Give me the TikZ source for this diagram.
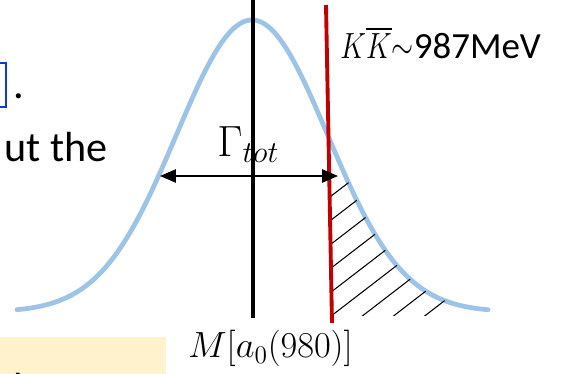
\documentclass[tikz,border=0pt]{standalone}
\usepackage[no-math]{fontspec}
\setmainfont{Carlito}
\usepackage{amsmath}
\usetikzlibrary{arrows.meta, calc}
\definecolor{gblue}{HTML}{9DC3E6}
\definecolor{thrred}{HTML}{C00000}
\definecolor{linkblue}{HTML}{1238D6}
\definecolor{notebg}{HTML}{FFF2CC}
\tikzset{
  % --- Duong cong va vach --------------------------------------
  gauss/.style={draw=gblue, line width=2.7pt, line cap=round},
  massline/.style={draw=black, line width=2.3pt},
  thrline/.style={draw=thrred, line width=2.2pt},
  warr/.style={{Triangle[length=9pt,width=7.5pt]}-{Triangle[length=9pt,width=7.5pt]},
    line width=0.9pt},
  hatch/.style={line width=0.6pt},
  % --- Chu -----------------------------------------------------
  slidetxt/.style={inner sep=0pt, anchor=base west,
    font=\fontsize{24}{28}\selectfont},
  lbl/.style={inner sep=0pt, anchor=base west,
    font=\fontsize{21}{25}\selectfont},
  notebox/.style={fill=notebg, draw=none}
}

\begin{document}
\begin{tikzpicture}[x=0.02cm, y=-0.02cm,
    declare function={bw(\t)=312-292*exp(-0.5*((\t-252)/75.6)^2);}]

  \useasboundingbox (0,0) rectangle (562,374);
  \clip (0,0) rectangle (562,374);

  % ---------- Manh chu cua slide ----------
  \draw[linkblue, line width=1.1pt] (-2,63) -- (6,63) -- (6,107) -- (-2,107);
  \node[slidetxt] (dot) at (13,99) {.};
  \node[slidetxt, anchor=base east] (txt) at (108,162) {ut the};
  \node[notebox, minimum width=166*0.02cm, minimum height=40*0.02cm,
        anchor=north west, inner sep=0pt] (note) at (0,337) {};
  \node[slidetxt] (notetxt) at (-1,403) {the sum};

  % ---------- Phan bo khoi luong ----------
  \draw[gauss] plot[domain=17:488, samples=140, smooth] (\x, {bw(\x)});

  % ---------- Vung gach cheo ----------
  \coordinate (hA) at (329.3,178);
  \coordinate (hB) at (332,316);
  \coordinate (hC) at (470,316);
  \begin{scope}
    \clip (hA) -- (hB) -- (hC) -- plot[domain=470:347, samples=60] (\x, {bw(\x)}) -- cycle;
    \foreach \c in {451,475,...,643}
      \draw[hatch] (320,{\c-0.77*320}) -- (480,{\c-0.77*480});
  \end{scope}

  % ---------- Vach khoi luong va nguong ----------
  \coordinate (mTop) at (253,0);
  \coordinate (mBot) at (253,318);
  \coordinate (kTop) at (326,5);
  \coordinate (kBot) at (332,323);
  \draw[massline] (mTop) -- (mBot);
  \draw[thrline] (kTop) -- (kBot);

  % ---------- Do rong ----------
  \coordinate (wL) at (160,176);
  \coordinate (wR) at (338,176);
  \draw[warr] (wL) -- (wR);

  % ---------- Nhan ----------
  \node[lbl, font=\fontsize{23}{26}\selectfont] (gam) at (217,157)
    {$\Gamma$\raisebox{-3.4pt}{\fontsize{18}{21}\selectfont$tot$}};
  \node[lbl] (kk) at (340,59)
    {\scalebox{0.78}[1]{\fontsize{22}{26}\selectfont$K\overline{K}{\sim}$}987MeV};
  \node[lbl] (mass) at (188,358) {$M[a_0(980)]$};

\end{tikzpicture}
\end{document}
